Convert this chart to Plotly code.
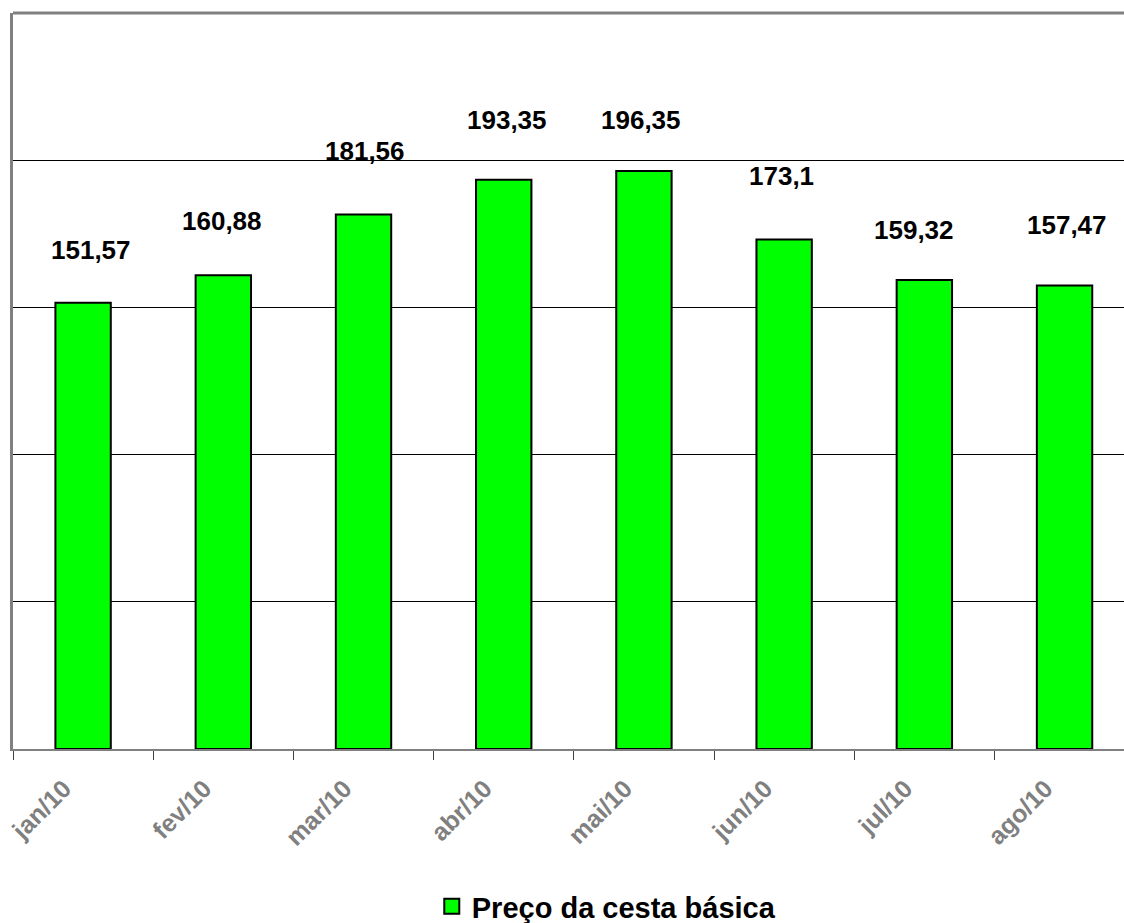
import plotly.graph_objects as go

meses = ["jan/10", "fev/10", "mar/10", "abr/10", "mai/10", "jun/10", "jul/10", "ago/10"]
precos = [151.57, 160.88, 181.56, 193.35, 196.35, 173.1, 159.32, 157.47]
rotulos = ["151,57", "160,88", "181,56", "193,35", "196,35", "173,1", "159,32", "157,47"]
serie_nome = "Preço da cesta básica"

# label placement offsets (pixels), as in the original chart
label_yshift = [53, 54, 63, 60, 51, 63, 50, 60]
label_xshift = [8, -1, 1, 3, -3, -3, -10, 2]

FONT = "Liberation Sans, Arial, sans-serif"

fig = go.Figure()
fig.add_trace(go.Bar(
    x=meses, y=precos, width=0.395,
    marker=dict(color="#00FF00", line=dict(color="black", width=2)),
    showlegend=False, hoverinfo="x+y",
))
fig.add_trace(go.Scatter(
    x=[None], y=[None], mode="markers", name=serie_nome,
    marker=dict(symbol="square", size=15, color="#00FF00",
                line=dict(color="black", width=2)),
))

for m, v, t, dx, dy in zip(meses, precos, rotulos, label_xshift, label_yshift):
    fig.add_annotation(x=m, y=v, text=t, showarrow=False,
                       xshift=dx, yshift=dy, yanchor="middle",
                       font=dict(family=FONT, size=26, color="black", weight="bold"))

fig.add_shape(type="line", xref="paper", yref="paper", x0=0, x1=1, y0=1, y1=1,
              line=dict(color="#808080", width=3))

fig.update_layout(
    width=1124, height=923,
    margin=dict(l=13, r=0, t=13, b=174, autoexpand=False),
    paper_bgcolor="white", plot_bgcolor="white",
    bargap=0.6,
    font=dict(family=FONT),
    xaxis=dict(
        type="category", range=[-0.5, 7.424], automargin=False,
        tickson="boundaries", ticks="outside", ticklen=9, tickwidth=1,
        tickcolor="#404040",
        tickangle=-45,
        tickfont=dict(family=FONT, size=25, color="#808080", weight="bold"),
        showline=True, linecolor="#808080", linewidth=2,
        showgrid=False, zeroline=False,
        ticklabelshift=-19, ticklabelstandoff=13,
    ),
    yaxis=dict(
        range=[0, 250], dtick=50, showticklabels=False, automargin=False,
        showgrid=True, gridcolor="black", gridwidth=1,
        showline=True, linecolor="#808080", linewidth=3,
        zeroline=False, ticks="",
    ),
    legend=dict(
        orientation="h", x=0.534, xanchor="center", y=-0.214, yanchor="middle",
        font=dict(family=FONT, size=29, color="black", weight="bold"),
        itemsizing="trace", bgcolor="rgba(0,0,0,0)",
    ),
)

fig.write_html(
    "out.html",
    config={"displayModeBar": False},
    post_script="document.body.style.margin='0';document.body.style.overflow='hidden';",
)
